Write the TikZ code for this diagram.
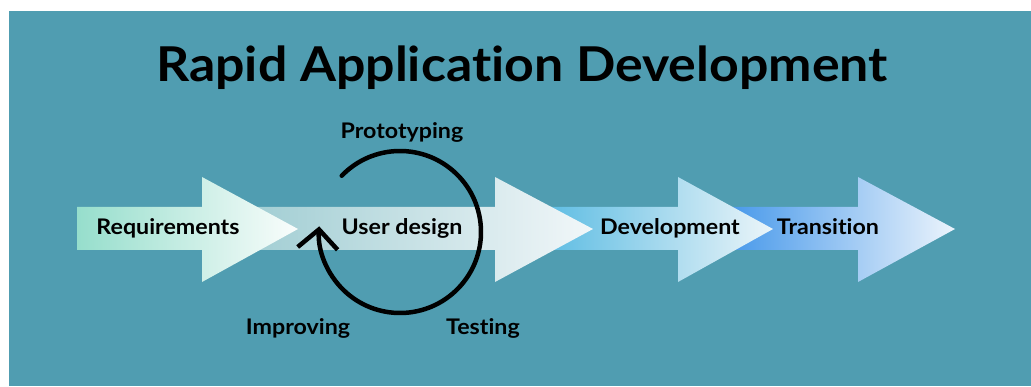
\documentclass[tikz,border=0pt]{standalone}
\usepackage{fontspec}
\setmainfont{Lato}[FakeStretch=1.08, Ligatures=NoCommon]
\usetikzlibrary{arrows.meta}

\definecolor{bgteal}{RGB}{80,157,177}
\definecolor{reqleft}{RGB}{150,222,204}
\definecolor{reqright}{RGB}{250,253,252}
\definecolor{udleft}{RGB}{150,200,206}
\definecolor{udright}{RGB}{242,247,249}
\definecolor{devleft}{RGB}{62,176,222}
\definecolor{devright}{RGB}{236,245,249}
\definecolor{trleft}{RGB}{34,132,230}
\definecolor{trright}{RGB}{236,244,252}

% one stage arrow: shaft start, head base, tip, left colour, right colour
\newcommand{\stagearrow}[5]{%
  \path[left color=#4, right color=#5] (#1,179) -- (#2,179) -- (#2,209) -- (#3,157)
    -- (#2,104) -- (#2,136) -- (#1,136) -- cycle;}

\tikzset{
  stage/.style={font=\bfseries\fontsize{21.5}{25}\selectfont, text=black, inner sep=0pt, anchor=base},
  heading/.style={font=\bfseries\fontsize{48}{54}\selectfont, text=black, inner sep=0pt, anchor=base},
  loopline/.style={line width=4.5pt, line cap=round, -{Straight Barb[length=19pt,width=40pt]}},
}

\begin{document}
\begin{tikzpicture}[x=1pt,y=1pt]
    \useasboundingbox (0,0) rectangle (1031,386);
    \fill[white] (0,0) rectangle (1031,386);
    \fill[bgteal] (9,0) rectangle (1031,375);

    % the title
    \node[heading] (title) at (522,304) {Rapid Application Development};

    % the stage arrows, last one first
    \stagearrow{678}{858}{955}{trleft}{trright}
    \stagearrow{495}{678}{773}{devleft}{devright}
    \stagearrow{202}{495}{593}{udleft}{udright}
    \stagearrow{77}{202}{298}{reqleft}{reqright}

    % the stage labels
    \node[stage] (req) at (168,151) {Requirements};
    \node[stage] (ud) at (402,151) {User design};
    \node[stage] (dev) at (670,151) {Development};
    \node[stage] (trans) at (828,151) {Transition};

    % the loop round user design
    \coordinate (loop) at (400,154);
    \draw[loopline] ([shift={(136:81)}]loop) arc[start angle=136, end angle=-184, radius=81];

    \node[stage] (proto) at (402,247) {Prototyping};
    \node[stage] (impr) at (298,52) {Improving};
    \node[stage] (test) at (483,52) {Testing};
\end{tikzpicture}
\end{document}
